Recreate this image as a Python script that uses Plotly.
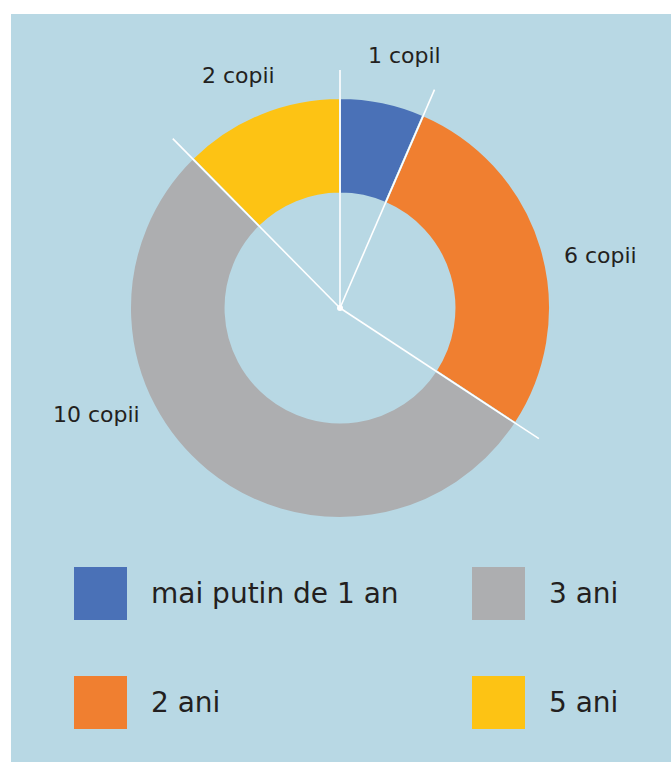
import math
import plotly.graph_objects as go

W, H = 671, 762

# ---- data ----
categories = ["mai putin de 1 an", "2 ani", "3 ani", "5 ani"]
copii = [1, 6, 10, 2]
label_text = ["1 copil", "6 copii", "10 copii", "2 copii"]
# share of the circle as drawn in the illustration (percent)
slice_share = [6.5, 27.75, 53.35, 12.4]
colors = ["#4a71b7", "#f07f30", "#adaeb0", "#fdc314"]

panel_color = "#b8d8e4"
text_color = "#231f20"
FONT = "DejaVu Sans"

def px(x):
    return x / W

def py(y):
    return 1 - y / H

# donut geometry (pixels)
cx, cy, R = 340, 308, 210
hole = 0.545

fig = go.Figure()
fig.add_trace(go.Pie(
    labels=categories,
    values=slice_share,
    customdata=copii,
    sort=False,
    direction="clockwise",
    rotation=0,
    hole=hole,
    marker=dict(colors=colors, line=dict(color=panel_color, width=2)),
    textinfo="none",
    hoverinfo="skip",
    showlegend=False,
    domain=dict(x=[px(cx - R), px(cx + R)], y=[py(cy + R), py(cy - R)]),
))

shapes = []
# light-blue panel
shapes.append(dict(type="rect", xref="paper", yref="paper", x0=px(11), x1=1, y0=0, y1=py(14),
                   fillcolor=panel_color, line=dict(width=0), layer="below"))

# white radial separators at slice boundaries
total = sum(slice_share)
cum = 0
L = 238
for s in slice_share:
    ang = math.radians(cum / total * 360)
    x1 = cx + L * math.sin(ang)
    y1 = cy - L * math.cos(ang)
    shapes.append(dict(type="line", xref="paper", yref="paper",
                       x0=px(cx), y0=py(cy), x1=px(x1), y1=py(y1),
                       line=dict(color="white", width=1.6), layer="above"))
    cum += s
shapes.append(dict(type="circle", xref="paper", yref="paper",
                   x0=px(cx - 3), x1=px(cx + 3), y0=py(cy + 3), y1=py(cy - 3),
                   fillcolor="white", line=dict(width=0), layer="above"))

annotations = []
# slice labels
label_pos = [(366, 55), (562, 255), (51, 415), (200, 75)]
for t, (lx, ly) in zip(label_text, label_pos):
    annotations.append(dict(text=t, x=px(lx), y=py(ly), xref="paper", yref="paper",
                            xanchor="left", yanchor="middle", showarrow=False,
                            font=dict(family=FONT, size=22, color=text_color)))

# legend (2 columns)
leg_pos = [(74, 567), (74, 676), (472, 567), (472, 676)]
sq = 53
for cat, col, (lx, ly) in zip(categories, colors, leg_pos):
    shapes.append(dict(type="rect", xref="paper", yref="paper",
                       x0=px(lx), x1=px(lx + sq), y0=py(ly + sq), y1=py(ly),
                       fillcolor=col, line=dict(width=0), layer="above"))
    annotations.append(dict(text=cat, x=px(lx + 75), y=py(ly + 26), xref="paper", yref="paper",
                            xanchor="left", yanchor="middle", showarrow=False,
                            font=dict(family=FONT, size=28, color=text_color)))

fig.update_layout(
    width=W, height=H,
    margin=dict(l=0, r=0, t=0, b=0),
    paper_bgcolor="white",
    plot_bgcolor="white",
    shapes=shapes,
    annotations=annotations,
    showlegend=False,
)

fig.write_html("out.html", config={"displayModeBar": False},
               post_script="document.body.style.margin='0px';document.body.style.overflow='hidden';")
